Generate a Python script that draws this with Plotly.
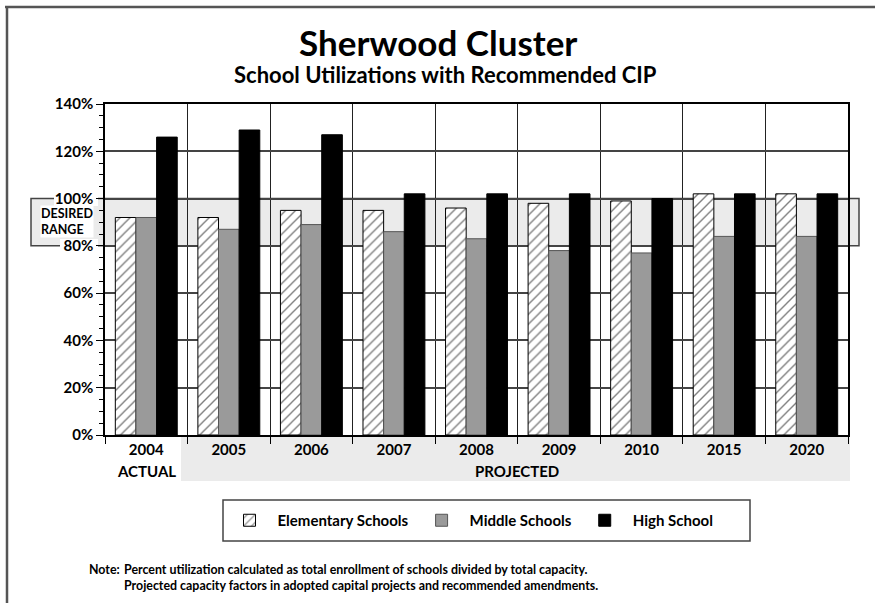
import plotly.graph_objects as go

years = ["2004", "2005", "2006", "2007", "2008", "2009", "2010", "2015", "2020"]
elementary = [92, 92, 95, 95, 96, 98, 99, 102, 102]
middle = [92, 87, 89, 86, 83, 78, 77, 84, 84]
high = [126, 129, 127, 102, 102, 102, 100, 102, 102]
series_names = ["Elementary Schools", "Middle Schools", "High School"]
y_ticks = [0, 20, 40, 60, 80, 100, 120, 140]
desired_range = [80, 100]

FONT = "Lato"
W, H = 875, 603
L, R, T, B = 105, 27, 104, 168
PW, PH = W - L - R, H - T - B


def px(x):
    return (x - L) / PW


def py(y):
    return (H - B - y) / PH


fig = go.Figure()
fig.add_trace(go.Bar(
    x=years, y=elementary, name=series_names[0],
    marker=dict(color="white", line=dict(color="black", width=1),
                pattern=dict(shape="/", fgcolor="black", bgcolor="white",
                             size=7, solidity=0.2)),
))
fig.add_trace(go.Bar(
    x=years, y=middle, name=series_names[1],
    marker=dict(color="#9a9a9a", line=dict(color="#555555", width=1)),
))
fig.add_trace(go.Bar(
    x=years, y=high, name=series_names[2],
    marker=dict(color="black", line=dict(color="black", width=1)),
))

shapes = []
# desired range band (extends beyond plot on both sides)
shapes.append(dict(type="rect", xref="paper", yref="y", x0=px(31), x1=px(859),
                   y0=desired_range[0], y1=desired_range[1],
                   fillcolor="#ebebeb", line=dict(color="#444444", width=1.5),
                   layer="below"))
# white boxes behind tick labels 100% and 80%
shapes.append(dict(type="rect", xref="paper", yref="paper", x0=px(54), x1=px(98),
                   y0=py(206), y1=py(191), fillcolor="white", line=dict(width=0),
                   layer="below"))
shapes.append(dict(type="rect", xref="paper", yref="paper", x0=px(60), x1=px(98),
                   y0=py(254), y1=py(239), fillcolor="white", line=dict(width=0),
                   layer="below"))
# gray background behind projected x labels
shapes.append(dict(type="rect", xref="paper", yref="paper", x0=px(181), x1=px(850),
                   y0=py(481), y1=py(436), fillcolor="#ebebeb", line=dict(width=0),
                   layer="below"))
# legend box
shapes.append(dict(type="rect", xref="paper", yref="paper", x0=px(223), x1=px(750),
                   y0=py(541), y1=py(500), fillcolor="rgba(0,0,0,0)",
                   line=dict(color="#444444", width=1.5), layer="below"))
# outer frame (top and left)
shapes.append(dict(type="line", xref="paper", yref="paper", x0=px(5), x1=px(875),
                   y0=py(7), y1=py(7), line=dict(color="#555555", width=2.5)))
shapes.append(dict(type="line", xref="paper", yref="paper", x0=px(7), x1=px(7),
                   y0=py(7), y1=py(603), line=dict(color="#555555", width=2.5)))

annotations = [
    dict(text="<b>Sherwood Cluster</b>", xref="paper", yref="paper", x=px(437.5), y=py(42),
         xanchor="center", yanchor="middle", showarrow=False,
         font=dict(family=FONT, size=35, color="black")),
    dict(text="<b>School Utilizations with Recommended CIP</b>", xref="paper", yref="paper",
         x=px(445.5), y=py(75), xanchor="center", yanchor="middle", showarrow=False,
         font=dict(family=FONT, size=22, color="black")),
    dict(text="<b>DESIRED<br>RANGE</b>", xref="paper", yref="paper", x=px(40), y=py(221.5),
         xanchor="left", yanchor="middle", showarrow=False, align="left",
         bgcolor="white", borderpad=0,
         font=dict(family=FONT, size=12.5, color="black")),
    dict(text="<b>ACTUAL</b>", xref="paper", yref="paper", x=px(146), y=py(471),
         xanchor="center", yanchor="middle", showarrow=False,
         font=dict(family=FONT, size=15, color="black")),
    dict(text="<b>PROJECTED</b>", xref="paper", yref="paper", x=px(517), y=py(471),
         xanchor="center", yanchor="middle", showarrow=False,
         font=dict(family=FONT, size=15, color="black")),
    dict(text="<b>Note:</b>", xref="paper", yref="paper", x=px(87), y=py(569),
         xanchor="left", yanchor="middle", showarrow=False,
         font=dict(family=FONT, size=12.4, color="black")),
    dict(text="<b>Percent utilization calculated as total enrollment of schools divided by total capacity.<br>"
              "Projected capacity factors in adopted capital projects and recommended amendments.</b>",
         xref="paper", yref="paper", x=px(122), y=py(577.5),
         xanchor="left", yanchor="middle", showarrow=False, align="left",
         font=dict(family=FONT, size=12.4, color="black")),
]

fig.update_layout(
    width=W, height=H,
    margin=dict(l=L, r=R, t=T, b=B, pad=0),
    paper_bgcolor="white", plot_bgcolor="rgba(0,0,0,0)",
    barmode="group", bargap=0.25, bargroupgap=0,
    font=dict(family=FONT, size=15, color="black"),
    shapes=shapes, annotations=annotations,
    showlegend=True,
    legend=dict(orientation="h", x=px(470), y=py(520.5), xanchor="center", yanchor="middle",
                font=dict(family=FONT, size=15, color="black", weight="bold"),
                bgcolor="rgba(0,0,0,0)", borderwidth=0, itemwidth=46),
)
fig.update_xaxes(
    type="category", tickson="boundaries", showgrid=True, gridcolor="#222222", gridwidth=1.4,
    ticks="outside", ticklen=7, tickcolor="black", tickwidth=1.4,
    showline=True, linecolor="black", linewidth=2, mirror=True,
    tickfont=dict(family=FONT, size=15, color="black", weight="bold"),
    range=[-0.5, len(years) - 0.5], fixedrange=True,
)
fig.update_yaxes(
    range=[0, 140], tickvals=y_ticks, ticktext=[f"{v}%" for v in y_ticks],
    showgrid=True, gridcolor="#444444", gridwidth=1.5, zeroline=False,
    ticks="outside", ticklen=7, tickcolor="black", tickwidth=1.3,
    minor=dict(dtick=5, ticks="outside", ticklen=4, tickcolor="black", showgrid=False),
    showline=True, linecolor="black", linewidth=1.5, mirror=True,
    tickfont=dict(family=FONT, size=15, color="black", weight="bold"),
    fixedrange=True,
)

fig.write_html("out.html", config={"displayModeBar": False},
               post_script="document.body.style.margin='0px';document.body.style.overflow='hidden';")
